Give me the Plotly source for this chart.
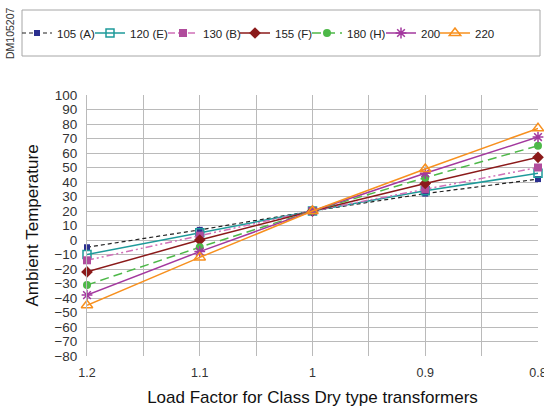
import plotly.graph_objects as go

load_factor = [1.2, 1.1, 1.0, 0.9, 0.8]
tick_labels = ["1.2", "1.1", "1", "0.9", "0.8"]

s105 = [-5, 7, 20, 32, 42]
s120 = [-10, 5, 20, 34, 46]
s130 = [-14, 3, 20, 35, 50]
s155 = [-22, 0, 20, 39, 57]
s180 = [-31, -5, 20, 43, 65]
s200 = [-38, -8, 20, 46, 71]
s220 = [-45, -12, 20, 49, 77]

series = [
    ("105 (A)", s105, dict(color="#222222", width=1.2, dash="4px,3px"),
     dict(symbol="square", size=6, color="#2B2F8F")),
    ("120 (E)", s120, dict(color="#1E9A9A", width=1.5, dash="solid"),
     dict(symbol="square-open", size=8, color="#1E9A9A", line=dict(width=1.5))),
    ("130 (B)", s130, dict(color="#D070B8", width=1.5, dash="7px,3px,2px,3px,2px,3px"),
     dict(symbol="square", size=8, color="#B04C9C")),
    ("155 (F)", s155, dict(color="#8B1A1A", width=1.5, dash="solid"),
     dict(symbol="diamond", size=9, color="#8B1A1A")),
    ("180 (H)", s180, dict(color="#4DB848", width=1.5, dash="9px,5px"),
     dict(symbol="circle", size=8, color="#4DB848")),
    ("200", s200, dict(color="#A3389E", width=1.5, dash="solid"),
     dict(symbol="asterisk-open", size=9, color="#A3389E", line=dict(width=1.5, color="#A3389E"))),
    ("220", s220, dict(color="#F7901E", width=1.5, dash="solid"),
     dict(symbol="triangle-up-open", size=10, color="#F7901E", line=dict(width=1.5))),
]

legend_x_px = [17, 90, 163, 235, 307, 381, 435]

fig = go.Figure()
legends = {}
for i, (name, vals, ln, mk) in enumerate(series):
    key = "legend" if i == 0 else f"legend{i+1}"
    fig.add_trace(go.Scatter(x=load_factor, y=vals, name=name, mode="lines+markers",
                             line=ln, marker=mk, cliponaxis=False, legend=key))
    legends[key] = dict(orientation="h", xref="container", yref="container",
                        xanchor="left", yanchor="middle",
                        x=legend_x_px[i]/544, y=1-33/407,
                        font=dict(size=11.5, color="#222222"), bgcolor="rgba(0,0,0,0)",
                        borderwidth=0, itemwidth=30)

L, R, T, B = 87, 6, 95, 51
pw = 544 - L - R
ph = 407 - T - B

fig.update_layout(
    width=544, height=407,
    margin=dict(l=L, r=R, t=T, b=B, pad=0),
    paper_bgcolor="white", plot_bgcolor="white",
    font=dict(family="Liberation Sans, Arial, sans-serif", size=13, color="#333333"),
    showlegend=True,
    **legends,
    xaxis=dict(range=[1.2, 0.8], tickvals=load_factor, ticktext=tick_labels,
               automargin=False, ticklabeloverflow="allow",
               showgrid=True, gridcolor="#BABABA", gridwidth=1,
               minor=dict(dtick=0.05, showgrid=True, gridcolor="#BABABA", gridwidth=1),
               zeroline=False, showline=False, ticks="", ticklabelstandoff=7,
               tickfont=dict(size=12.5, color="#333333"),
               title=dict(text="Load Factor for Class Dry type transformers",
                          font=dict(size=17, color="#111111"), standoff=12)),
    yaxis=dict(range=[-80, 100], dtick=10, tick0=0, automargin=False,
               showgrid=True, gridcolor="#BABABA", gridwidth=1,
               zeroline=False, showline=True, linecolor="#BABABA", linewidth=1,
               ticks="", ticklabelstandoff=6, tickfont=dict(size=13.5, color="#333333"),
               title=dict(text="Ambient Temperature", font=dict(size=17, color="#111111"),
                          standoff=11)),
    shapes=[dict(type="rect", xref="paper", yref="paper",
                 x0=(22-L)/pw, x1=(540-L)/pw,
                 y0=(407-B-56)/ph, y1=(407-B-10)/ph,
                 line=dict(color="#A6A6A6", width=1), fillcolor="rgba(0,0,0,0)")],
    annotations=[dict(text="DM105207", textangle=-90, xref="paper", yref="paper",
                      x=(10-L)/pw, y=(407-B-33)/ph, xanchor="center", yanchor="middle",
                      showarrow=False, font=dict(size=10.5, color="#333333"))],
)

fig.write_html("out.html", config={"displayModeBar": False},
               post_script="document.body.style.margin='0px';")
